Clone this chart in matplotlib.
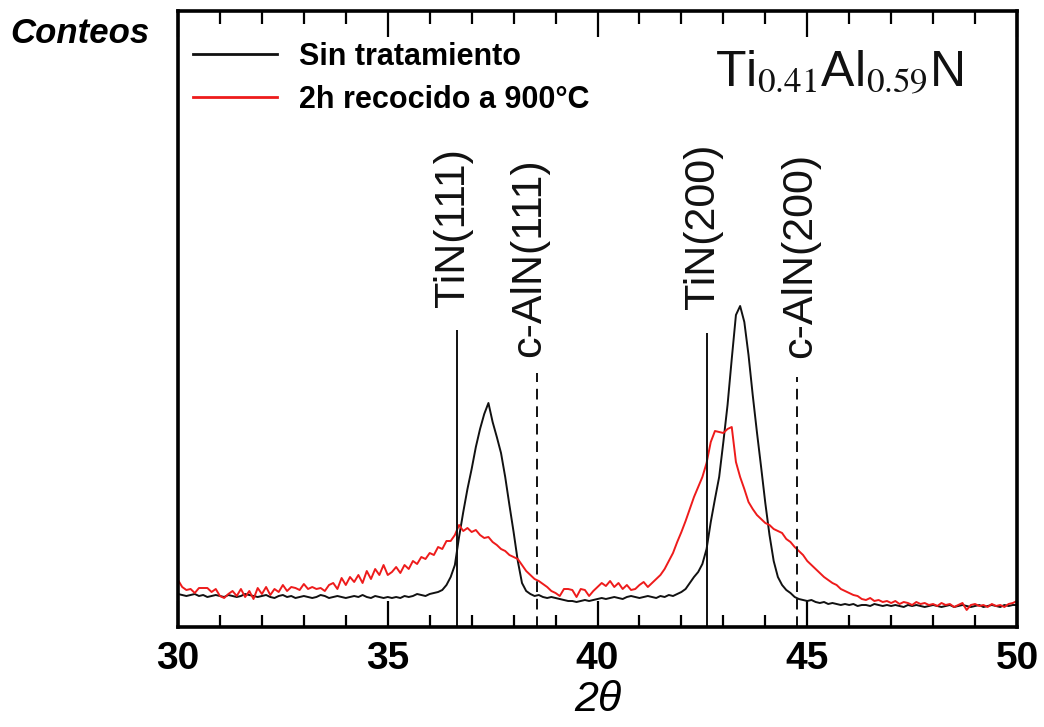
import numpy as np
import matplotlib
matplotlib.use("Agg")
import matplotlib.pyplot as plt
from matplotlib.ticker import MultipleLocator

# ---- XRD data: Ti0.41Al0.59N, intensity in arbitrary units ----
two_theta = np.round(np.arange(30.0, 50.01, 0.1), 1)

as_deposited = [
    33, 32, 31, 32, 33, 31, 32, 30, 31, 32,
    31, 30, 32, 31, 30, 31, 33, 32, 31, 30,
    31, 32, 30, 29, 31, 32, 30, 31, 29, 30,
    31, 30, 29, 30, 32, 31, 29, 30, 31, 30,
    29, 30, 31, 30, 32, 30, 29, 31, 30, 29,
    30, 29, 30, 29, 31, 30, 31, 33, 32, 31,
    33, 34, 35, 37, 42, 50, 62, 90, 115, 138,
    158, 180, 198, 213, 224, 205, 190, 174, 150, 122,
    95, 66, 44, 36, 33, 31, 32, 30, 29, 30,
    29, 28, 27, 26, 26, 25, 26, 27, 26, 27,
    28, 29, 28, 29, 30, 29, 28, 30, 31, 30,
    29, 30, 31, 30, 29, 31, 30, 32, 31, 33,
    35, 38, 44, 50, 55, 63, 78, 105, 128, 150,
    185, 222, 268, 312, 321, 305, 272, 232, 195, 160,
    124, 92, 66, 50, 42, 37, 34, 30, 28, 27,
    26, 27, 25, 24, 25, 23, 24, 23, 22, 23,
    22, 23, 21, 22, 22, 21, 23, 22, 21, 22,
    21, 22, 21, 20, 22, 21, 22, 21, 20, 21,
    22, 21, 20, 21, 22, 20, 21, 22, 21, 20,
    21, 22, 20, 21, 22, 21, 20, 22, 21, 22,
    22,
]

annealed_900 = [
    47, 40, 37, 38, 34, 39, 39, 39, 35, 38,
    31, 29, 33, 36, 31, 38, 30, 36, 28, 39,
    33, 40, 32, 38, 35, 42, 36, 40, 39, 37,
    43, 38, 40, 38, 39, 36, 42, 44, 38, 49,
    42, 50, 45, 52, 44, 56, 48, 58, 52, 62,
    52, 55, 60, 54, 62, 58, 66, 63, 70, 68,
    74, 72, 80, 78, 86, 86, 92, 102, 96, 99,
    95, 97, 92, 89, 90, 85, 82, 78, 76, 72,
    70, 68, 62, 56, 52, 48, 46, 43, 40, 36,
    34, 31, 38, 38, 37, 30, 38, 37, 31, 36,
    40, 44, 41, 46, 40, 44, 38, 42, 37, 38,
    42, 45, 40, 44, 48, 52, 58, 66, 74, 85,
    95, 106, 118, 130, 140, 150, 164, 185, 196, 195,
    194, 198, 200, 165, 150, 138, 125, 118, 112, 108,
    104, 102, 98, 96, 94, 88, 85, 80, 76, 72,
    66, 62, 58, 54, 50, 47, 44, 42, 38, 36,
    34, 32, 31, 28, 27, 29, 26, 27, 25, 26,
    24, 26, 23, 25, 24, 22, 25, 23, 24, 22,
    23, 21, 24, 22, 23, 20, 22, 24, 17, 22,
    23, 21, 22, 20, 23, 21, 22, 20, 23, 24,
    26,
]

series_labels = ["Sin tratamiento", "2h recocido a 900°C"]

# Reference reflections
ref_names = ["TiN(111)", "c-AlN(111)", "TiN(200)", "c-AlN(200)"]
ref_positions = [36.65, 38.55, 42.60, 44.75]
ref_heights = [297, 254, 294, 250]

x_ticks = [30, 35, 40, 45, 50]

# ---- figure ----
plt.rcParams["mathtext.fontset"] = "stix"
fig = plt.figure(figsize=(10.44, 7.27), dpi=100)
ax = fig.add_axes([178 / 1044, 1 - 627 / 727, 839 / 1044, 616 / 727])

l1, = ax.plot(two_theta, as_deposited, color="#111111", lw=1.4, label=series_labels[0])
l2, = ax.plot(two_theta, annealed_900, color="#ee1b1b", lw=1.4, label=series_labels[1])

ref_styles = ["-", (0, (5.5, 3.5)), "-", (0, (5.5, 3.5))]
label_dx = [-0.09, -0.19, -0.09, 0.07]
label_gap = [23, 16, 24, 19]
for name, pos, h, ls, dx, gap in zip(ref_names, ref_positions, ref_heights,
                                     ref_styles, label_dx, label_gap):
    ax.vlines(pos, 0, h, colors="#111111", linestyles=[ls], lw=1.4)
    ax.text(pos + dx, h + gap, name, rotation=90, ha="center", va="bottom",
            fontsize=31, family=["Liberation Sans", "DejaVu Sans"], color="#111111")

ax.set_xlim(30, 50)
ax.set_ylim(0, 616)
ax.set_xticks(x_ticks)
ax.xaxis.set_minor_locator(MultipleLocator(1))
ax.set_yticks([])
ax.tick_params(axis="x", which="major", direction="in", top=True, length=19,
               width=1.6, pad=10)
ax.tick_params(axis="x", which="minor", direction="in", top=True, length=9,
               width=1.6)
for lab in ax.get_xticklabels():
    lab.set_family(["Liberation Sans", "DejaVu Sans"])
    lab.set_fontweight("bold")
    lab.set_fontsize(28)
for sp in ax.spines.values():
    sp.set_linewidth(2.6)

ax.set_xlabel("2θ", fontsize=31, style="italic",
              family=["Liberation Sans", "DejaVu Sans"], labelpad=2)

leg = ax.legend(handles=[l1, l2], loc="upper left", bbox_to_anchor=(0.018, 0.95),
                frameon=False, borderpad=0, borderaxespad=0, handlelength=2.75,
                handletextpad=0.7, labelspacing=0.42,
                prop={"family": ["Liberation Sans", "DejaVu Sans"],
                      "weight": "bold", "size": 22})
for h in leg.legend_handles:
    h.set_linewidth(2.0)

ax.text(0.9357, 0.8766, r"Ti$_{\mathrm{0.41}}$Al$_{\mathrm{0.59}}$N",
        transform=ax.transAxes, ha="right", va="baseline", fontsize=36,
        family=["Liberation Sans", "DejaVu Sans"], color="#111111")

fig.text(10 / 1044, 1 - 43 / 727, "Conteos", ha="left", va="baseline",
         fontsize=25, fontweight="bold", style="italic",
         family=["Liberation Sans", "DejaVu Sans"])

fig.savefig("out.png", dpi=100)
